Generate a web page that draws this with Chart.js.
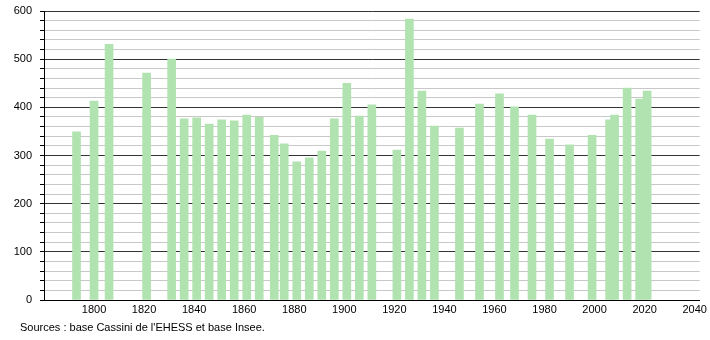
<!DOCTYPE html>
<html>
<head>
<meta charset="utf-8">
<script src="https://cdn.jsdelivr.net/npm/chart.js@4/dist/chart.umd.min.js"></script>
<style>
  html, body { margin:0; padding:0; background:#fff; }
  #wrap { position:relative; width:710px; height:340px; }
  #src { position:absolute; left:20px; top:321px; font:11px "Liberation Sans", Arial, sans-serif; color:#000; }
</style>
</head>
<body>
<div id="wrap">
  <canvas id="pop" width="710" height="340"></canvas>
  <div id="src">Sources : base Cassini de l'EHESS et base Insee.</div>
</div>
<script>
const years = [1793,1800,1806,1821,1831,1836,1841,1846,1851,1856,1861,1866,1872,1876,1881,1886,1891,1896,1901,1906,1911,1921,1926,1931,1936,1946,1954,1962,1968,1975,1982,1990,1999,2006,2008,2013,2018,2021];
const population = [349,413,531,471,500,376,378,365,374,372,384,379,342,324,287,295,309,376,450,382,405,311,583,434,361,357,407,428,401,384,334,322,342,374,384,440,417,434];
const xTicks = [1800,1820,1840,1860,1880,1900,1920,1940,1960,1980,2000,2020,2040];

const font = {family:"'Liberation Sans', Arial, sans-serif", size:11};

new Chart(document.getElementById("pop"), {
  type: "bar",
  data: {
    datasets: [{
      data: years.map((y, i) => ({x: y, y: population[i]})),
      backgroundColor: "#b1e3b1",
      borderWidth: 0,
      barThickness: 8
    }]
  },
  options: {
    responsive: false,
    animation: false,
    layout: {padding: {top: 11, right: 10, bottom: 20, left: 0}},
    plugins: {legend: {display: false}, tooltip: {enabled: false}},
    scales: {
      x: {
        type: "linear", min: 1780, max: 2042, offset: false,
        afterBuildTicks: s => { s.ticks = xTicks.map(v => ({value: v})); },
        afterFit: s => { s.height = 20; },
        grid: {display: false, drawTicks: false},
        border: {color: "#000", width: 1},
        ticks: {font, color: "#000", padding: 3, maxRotation: 0, autoSkip: false,
          callback: v => String(v)}
      },
      y: {
        min: 0, max: 600,
        afterFit: s => { s.width = 44; s.paddingTop = 0; s.paddingBottom = 0; },
        ticks: {stepSize: 20, font, color: "#000", padding: 8, autoSkip: false,
          callback: v => v % 100 === 0 ? String(v) : ""},
        grid: {
          color: c => c.tick.value % 100 === 0 ? "#333" : "#c8c8c8",
          tickColor: "#000", tickLength: 4, lineWidth: 1
        },
        border: {color: "#000", width: 1}
      }
    }
  }
});
</script>
</body>
</html>
